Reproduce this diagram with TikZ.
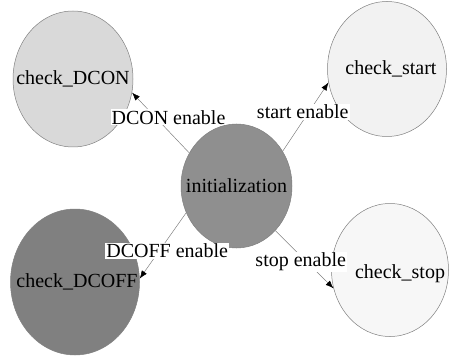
\documentclass[tikz,border=0pt]{standalone}
\usepackage{fontspec}
\setmainfont{Liberation Serif}
\usetikzlibrary{shapes.geometric, arrows.meta}

\definecolor{dconfill}{HTML}{D9D9D9}
\definecolor{startfill}{HTML}{F2F2F2}
\definecolor{dcofffill}{HTML}{808080}
\definecolor{stopfill}{HTML}{F7F7F7}
\definecolor{initfill}{HTML}{8F8F8F}

\begin{document}
\begin{tikzpicture}[
x=1pt, y=-1pt,
state/.style ={ellipse, draw=gray, line width=0.5pt, inner sep=0pt},
line/.style  ={draw=gray, line width=0.5pt, -{Latex[black,length=8pt,width=6pt]}},
cond/.style  ={fill=white, inner sep=1pt},
font=\fontsize{20}{24}\selectfont]

\useasboundingbox (0,0) rectangle (449,358);

% Define the nodes
\node[state, fill=initfill,  minimum width=111pt, minimum height=124pt, label=center:initialization] (init)  at (236.5,186) {};
\node[state, fill=dconfill,  minimum width=120pt, minimum height=136pt, label=center:check\_DCON]    (dcon)  at (73,79)     {};
\node[state, fill=startfill, minimum width=119pt, minimum height=135pt, label={[xshift=4pt]center:check\_start}] (start) at (387,69) {};
\node[state, fill=dcofffill, minimum width=129pt, minimum height=146pt, label={[xshift=2pt]center:check\_DCOFF}] (dcoff) at (75,282) {};
\node[state, fill=stopfill,  minimum width=117pt, minimum height=133pt, label={[xshift=10pt,yshift=-4pt]center:check\_stop}] (stop) at (390,270) {};

% Connect the nodes
\path[line] (init.145) -- node[cond, pos=0.59, xshift=13pt]  {DCON enable}  (dcon.347);
\path[line] (init.37)  -- node[cond, pos=0.57, xshift=-6pt]  {start enable} (start.193);
\path[line] (init.208) -- node[cond, pos=0.58, xshift=8pt]   {DCOFF enable} (dcoff.3);
\path[line] (init.311) -- node[cond, pos=0.54, xshift=-6pt]  {stop enable}  (stop.198);

\end{tikzpicture}
\end{document}
